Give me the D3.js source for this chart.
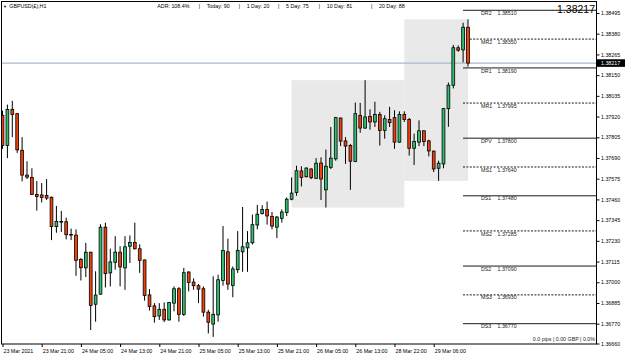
<!DOCTYPE html>
<html>
<head>
<meta charset="utf-8">
<script src="https://cdn.jsdelivr.net/npm/d3@7"></script>
<style>
body { margin: 0; background: #fff; }
text { font-family: "Liberation Sans", Arial, sans-serif; }
</style>
</head>
<body>
<div id="chart"></div>
<script>
// GBPUSD H1 bars, index 0 = 23 Mar 13:00
const opens = [1.37927,1.37759,1.37960,1.37936,1.37733,1.37595,1.37582,1.37488,1.37485,1.37482,
  1.37472,1.37309,1.37337,1.37336,1.37265,1.37262,1.37126,1.37080,1.37167,1.36878,
  1.36934,1.37306,1.37052,1.37111,1.37167,1.37080,1.37200,1.37221,1.37186,1.37124,
  1.36930,1.36869,1.36813,1.36850,1.36791,1.36884,1.36964,1.36822,1.37057,1.37001,
  1.36981,1.36964,1.36834,1.36768,1.36819,1.37010,1.37169,1.36982,1.37070,1.37169,
  1.37191,1.37219,1.37318,1.37381,1.37404,1.37366,1.37306,1.37355,1.37387,1.37461,
  1.37499,1.37618,1.37586,1.37629,1.37577,1.37662,1.37513,1.37638,1.37685,1.37912,
  1.37785,1.37759,1.37670,1.37927,1.37856,1.37921,1.37890,1.37931,1.37843,1.37904,
  1.37914,1.37778,1.37931,1.37904,1.37744,1.37778,1.37841,1.37785,1.37728,1.37633,
  1.37657,1.37964,1.38094,1.38302,1.38290,1.38416];
const highs = [1.37953,1.37986,1.38007,1.37940,1.37806,1.37672,1.37633,1.37562,1.37551,1.37573,
  1.37476,1.37424,1.37396,1.37359,1.37298,1.37294,1.37135,1.37219,1.37169,1.37061,
  1.37322,1.37331,1.37187,1.37256,1.37200,1.37256,1.37260,1.37331,1.37211,1.37126,
  1.36962,1.36884,1.36884,1.36888,1.36891,1.36977,1.36973,1.37080,1.37061,1.37022,
  1.36990,1.36977,1.36847,1.37033,1.37042,1.37312,1.37242,1.37088,1.37284,1.37418,
  1.37284,1.37376,1.37430,1.37428,1.37448,1.37390,1.37368,1.37405,1.37471,1.37582,
  1.37647,1.37644,1.37638,1.37633,1.37689,1.37694,1.37737,1.37862,1.37918,1.37914,
  1.37806,1.37768,1.37998,1.37996,1.38122,1.37960,1.38002,1.37946,1.37927,1.37974,
  1.37955,1.37949,1.37949,1.37912,1.37825,1.37899,1.37843,1.37791,1.37731,1.37675,
  1.37968,1.38109,1.38318,1.38315,1.38441,1.38460];
const lows = [1.37741,1.37689,1.37806,1.37718,1.37560,1.37573,1.37484,1.37398,1.37443,1.37457,
  1.37234,1.37275,1.37279,1.37238,1.37234,1.37036,1.37010,1.37029,1.36735,1.36781,
  1.36930,1.36971,1.36977,1.37070,1.36977,1.36958,1.37107,1.37182,1.37052,1.36898,
  1.36843,1.36776,1.36791,1.36779,1.36787,1.36839,1.36781,1.36813,1.36949,1.36958,
  1.36884,1.36809,1.36716,1.36697,1.36781,1.36981,1.36958,1.36917,1.37052,1.37058,
  1.37058,1.37210,1.37294,1.37376,1.37320,1.37294,1.37245,1.37331,1.37368,1.37455,
  1.37480,1.37532,1.37582,1.37573,1.37573,1.37457,1.37415,1.37629,1.37675,1.37756,
  1.37657,1.37513,1.37667,1.37830,1.37852,1.37847,1.37862,1.37759,1.37797,1.37862,
  1.37741,1.37774,1.37890,1.37703,1.37651,1.37756,1.37756,1.37699,1.37612,1.37563,
  1.37633,1.37863,1.38076,1.38280,1.38221,1.38197];
const closes = [1.37759,1.37959,1.37931,1.37735,1.37595,1.37584,1.37488,1.37476,1.37471,1.37467,
  1.37309,1.37338,1.37337,1.37264,1.37262,1.37122,1.37081,1.37167,1.36871,1.36929,
  1.37306,1.37048,1.37113,1.37167,1.37085,1.37197,1.37221,1.37186,1.37122,1.36927,
  1.36865,1.36809,1.36850,1.36791,1.36888,1.36964,1.36822,1.37053,1.36999,1.36981,
  1.36962,1.36834,1.36778,1.36822,1.37014,1.37176,1.36990,1.37074,1.37176,1.37197,
  1.37219,1.37320,1.37378,1.37404,1.37368,1.37312,1.37362,1.37390,1.37461,1.37495,
  1.37619,1.37582,1.37634,1.37580,1.37661,1.37573,1.37644,1.37689,1.37914,1.37784,
  1.37756,1.37672,1.37936,1.37856,1.37918,1.37890,1.37931,1.37843,1.37908,1.37886,
  1.37778,1.37931,1.37904,1.37744,1.37781,1.37841,1.37781,1.37729,1.37629,1.37661,
  1.37964,1.38094,1.38302,1.38288,1.38416,1.38217];

const timeTicks = [0, 8, 16, 24, 32, 40, 48, 56, 64, 72, 80, 88];
const timeLabels = ["23 Mar 2021", "23 Mar 21:00", "24 Mar 05:00", "24 Mar 13:00", "24 Mar 21:00",
  "25 Mar 05:00", "25 Mar 13:00", "25 Mar 21:00", "26 Mar 05:00", "26 Mar 13:00",
  "28 Mar 22:00", "29 Mar 06:00"];
const priceTicks = [1.38495, 1.38380, 1.38265, 1.38150, 1.38035, 1.37920, 1.37805, 1.37690,
  1.37575, 1.37460, 1.37345, 1.37230, 1.37115, 1.37000, 1.36885, 1.36770, 1.36660];

const pivotNames = ["DR2", "MR2", "DR1", "MR1", "DPV", "MS1", "DS1", "MS2", "DS2", "MS3", "DS3"];
const pivotValues = [1.38510, 1.38350, 1.38190, 1.37995, 1.37800, 1.37640, 1.37480, 1.37285, 1.37090, 1.36930, 1.36770];

const dayStarts = [59, 82];   // 26 Mar 00:00, 29 Mar 00:00
const lastPrice = 1.38217;
const symbol = "GBPUSD(£),H1";
const stats = ["ADR: 108.4%", "Today: 90", "1 Day: 20", "5 Day: 75", "10 Day: 81", "20 Day: 88"];
const footer = "0.0 pips | 0.00 GBP | 0.0%";

const W = 625, H = 358;
const plot = {left: 1.5, right: 596.5, top: 1.5, bottom: 344};
const fs = 5.3;

const svg = d3.select("#chart").append("svg").attr("width", W).attr("height", H);

const n = opens.length;
const x = d3.scaleLinear().domain([0, n - 1]).range([2.5, 2.5 + 4.9 * (n - 1)]);
const y = d3.scaleLinear().domain([1.36770, 1.38380]).range([323.7, 33.7]);

svg.append("clipPath").attr("id", "clip").append("rect")
  .attr("x", plot.left).attr("y", plot.top)
  .attr("width", plot.right - plot.left).attr("height", plot.bottom - plot.top);

const g = svg.append("g").attr("clip-path", "url(#clip)");

// day range boxes
dayStarts.forEach((s, k) => {
  let e = k + 1 < dayStarts.length ? dayStarts[k + 1] : n - 1;
  let last = k + 1 < dayStarts.length ? e - 1 : e;
  let hi = d3.max(highs.slice(s, last + 1)), lo = d3.min(lows.slice(s, last + 1));
  g.append("rect")
    .attr("x", x(s)).attr("width", x(e) - x(s))
    .attr("y", y(hi)).attr("height", y(lo) - y(hi))
    .attr("fill", "#e9e9e9");
});

// current price line
g.append("line")
  .attr("x1", plot.left).attr("x2", plot.right)
  .attr("y1", y(lastPrice)).attr("y2", y(lastPrice))
  .attr("stroke", "#a9b8c8").attr("stroke-width", 1.3);

// pivot levels
const pivStart = x(n - 1) - 5;
pivotNames.forEach((name, k) => {
  let py = y(pivotValues[k]);
  g.append("line")
    .attr("x1", pivStart).attr("x2", plot.right)
    .attr("y1", py).attr("y2", py)
    .attr("stroke", "#000").attr("stroke-width", 0.9)
    .attr("stroke-dasharray", name[0] == "M" ? "2,1.4" : null);
  g.append("text").attr("x", pivStart + 18).attr("y", py + 4.6)
    .attr("font-size", fs).attr("fill", "#222").text(name);
  g.append("text").attr("x", pivStart + 34.5).attr("y", py + 4.6)
    .attr("font-size", fs).attr("fill", "#222").text(pivotValues[k].toFixed(5));
});

// candles
for (let i = 0; i < n; i++) {
  let o = opens[i], c = closes[i];
  g.append("line")
    .attr("x1", x(i)).attr("x2", x(i))
    .attr("y1", y(highs[i])).attr("y2", y(lows[i]))
    .attr("stroke", "#000").attr("stroke-width", 1);
  let top = y(Math.max(o, c)), bot = y(Math.min(o, c));
  g.append("rect")
    .attr("x", x(i) - 1.4).attr("width", 2.8)
    .attr("y", top).attr("height", Math.max(0.6, bot - top))
    .attr("fill", c >= o ? "#2fbf71" : "#f2400c")
    .attr("stroke", "#000").attr("stroke-width", 0.8);
}

// frame
svg.append("rect")
  .attr("x", plot.left).attr("y", plot.top)
  .attr("width", plot.right - plot.left).attr("height", plot.bottom - plot.top)
  .attr("fill", "none").attr("stroke", "#000").attr("stroke-width", 1);

// price axis
const yAxis = svg.append("g").attr("transform", "translate(" + plot.right + ",0)")
  .call(d3.axisRight(y).tickValues(priceTicks).tickFormat(d3.format(".5f")).tickSize(3).tickPadding(1.5));
yAxis.select(".domain").remove();
yAxis.selectAll("text").attr("font-size", fs).attr("font-family", null).attr("fill", "#000");
yAxis.selectAll("line").attr("stroke", "#000");

// time axis
const xAxis = svg.append("g").attr("transform", "translate(0," + plot.bottom + ")")
  .call(d3.axisBottom(x).tickValues(timeTicks).tickFormat((d, k) => timeLabels[k]).tickSize(3));
xAxis.select(".domain").remove();
xAxis.selectAll("text").attr("font-size", fs).attr("font-family", null)
  .attr("text-anchor", "start").attr("x", 0.5).attr("y", 5).attr("fill", "#000");
xAxis.selectAll("line").attr("stroke", "#000");

// current price tag
svg.append("rect").attr("x", plot.right + 0.5).attr("y", y(lastPrice) - 3.8)
  .attr("width", W - plot.right).attr("height", 7.6).attr("fill", "#000");
svg.append("text").attr("x", plot.right + 4.5).attr("y", y(lastPrice) + 1.9)
  .attr("font-size", fs).attr("fill", "#fff").text(lastPrice.toFixed(5));

// big price
svg.append("text").attr("x", 595).attr("y", 13).attr("text-anchor", "end")
  .attr("font-size", 10.5).attr("fill", "#000").text(lastPrice.toFixed(5));

// header
svg.append("text").attr("x", 3).attr("y", 7.6).attr("font-size", 4).text("▼");
svg.append("text").attr("x", 9.3).attr("y", 7.8).attr("font-size", fs).text(symbol);
const statX = [157.3, 206.7, 246.7, 286, 326.7, 379];
stats.forEach((s, k) => {
  svg.append("text").attr("x", statX[k]).attr("y", 7.8).attr("font-size", fs).text(s);
  if (k < stats.length - 1)
    svg.append("text").attr("x", statX[k + 1] - 8).attr("y", 7.8).attr("font-size", fs).text("|");
});

// footer
svg.append("text").attr("x", 595).attr("y", 340.5).attr("text-anchor", "end")
  .attr("font-size", fs).attr("fill", "#222").text(footer);
</script>
</body>
</html>
